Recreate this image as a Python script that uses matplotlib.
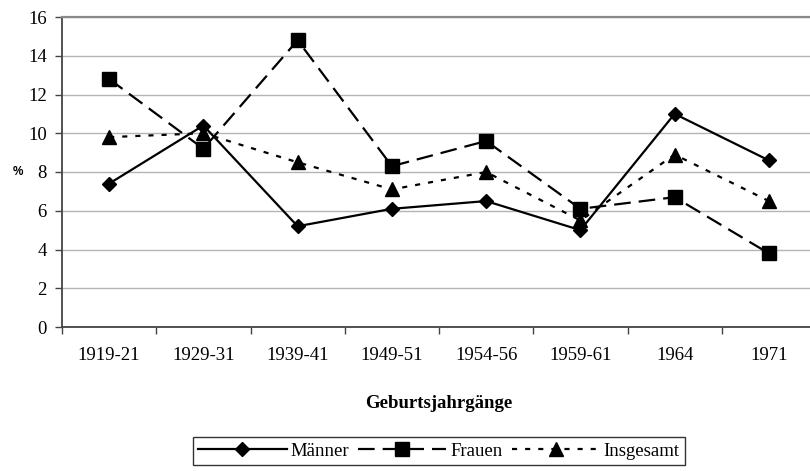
import matplotlib
matplotlib.use("Agg")
import matplotlib.pyplot as plt

jahrgaenge = ["1919-21", "1929-31", "1939-41", "1949-51", "1954-56", "1959-61", "1964", "1971"]
maenner = [7.4, 10.4, 5.2, 6.1, 6.5, 5.0, 11.0, 8.6]
frauen = [12.8, 9.2, 14.8, 8.3, 9.6, 6.1, 6.7, 3.8]
insgesamt = [9.8, 10.0, 8.5, 7.1, 8.0, 5.5, 8.9, 6.5]

plt.rcParams['font.family'] = ['Liberation Serif', 'DejaVu Serif']

fig = plt.figure(figsize=(8.1, 4.71), dpi=100)
# plot area runs past the right edge of the picture, like in the original
ax = fig.add_axes([62/810, 144/471, 754/810, 310/471])

x = [i + 0.5 for i in range(len(jahrgaenge))]
ax.plot(x, maenner, color='black', lw=1.6, marker='D', ms=7.5, label='Männer')
ax.plot(x, frauen, color='black', lw=1.6, marker='s', ms=9.5, dashes=(7.5, 3.6), label='Frauen')
ax.plot(x, insgesamt, color='black', lw=1.6, marker='^', ms=10.5, dashes=(2.3, 3.6), label='Insgesamt')

ax.set_xlim(0, 8)
ax.set_ylim(0, 16)
ax.set_yticks(range(0, 17, 2))
ax.set_xticks(range(0, 9))
ax.set_xticklabels([])
ax.set_xticks(x, minor=True)
ax.set_xticklabels(jahrgaenge, minor=True, fontsize=13.5)
ax.tick_params(axis='x', which='major', direction='out', length=5, width=1, color='#444444')
ax.tick_params(axis='x', which='minor', length=0, pad=14.5)
ax.tick_params(axis='y', direction='out', length=5, width=1, color='#444444', labelsize=13.5, pad=6)

ax.yaxis.grid(True, color='#b4b4b4', lw=1)
ax.set_axisbelow(True)
ax.spines['right'].set_visible(False)
ax.spines['top'].set_color('#8a8a8a')
ax.spines['top'].set_linewidth(1.6)
for s in ['left', 'bottom']:
    ax.spines[s].set_color('#444444')
    ax.spines[s].set_linewidth(1.3)

ax.set_xlabel('Geburtsjahrgänge', fontsize=13.5, fontweight='bold', va='center')
ax.xaxis.set_label_coords(0.5, -77/310)
ax.set_ylabel('%', fontsize=8.5, fontweight='bold', family='Liberation Sans', rotation=0, va='center', ha='center')
ax.yaxis.set_label_coords(-44.5/754, 0.5)

leg = ax.legend(loc='upper center', bbox_to_anchor=(0.5, -110/310), ncol=3, fontsize=13.5,
                frameon=True, fancybox=False, edgecolor='black', handlelength=4.7, numpoints=1,
                columnspacing=0.5, handletextpad=0.2, borderpad=0.3, borderaxespad=0)
leg.get_frame().set_linewidth(1)

fig.savefig('out.png', dpi=100)
